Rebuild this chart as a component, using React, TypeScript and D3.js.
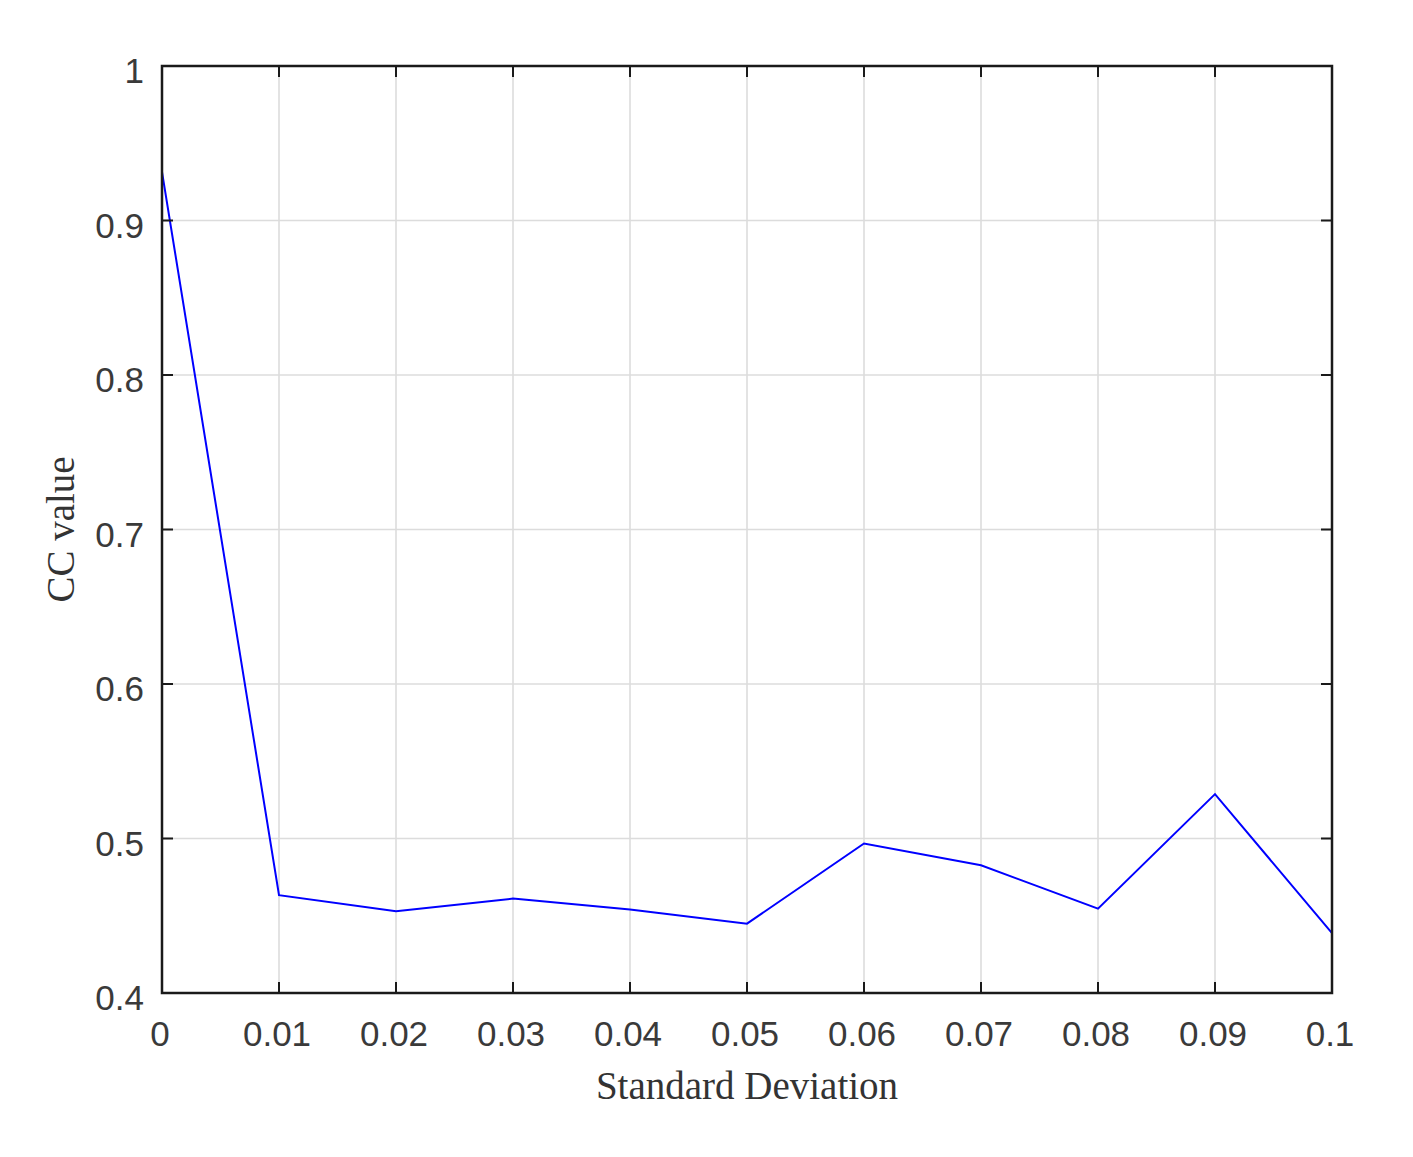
import React from "react";
import * as d3 from "d3";

const stdDev = [0, 0.01, 0.02, 0.03, 0.04, 0.05, 0.06, 0.07, 0.08, 0.09, 0.1];
const ccValue = [0.9315, 0.4633, 0.4529, 0.4611, 0.454, 0.4449, 0.4968, 0.4827, 0.4546, 0.5287, 0.4388];
const xTicks = [0, 0.01, 0.02, 0.03, 0.04, 0.05, 0.06, 0.07, 0.08, 0.09, 0.1];
const xTickLabels = ["0", "0.01", "0.02", "0.03", "0.04", "0.05", "0.06", "0.07", "0.08", "0.09", "0.1"];
const yTicks = [0.4, 0.5, 0.6, 0.7, 0.8, 0.9, 1];
const yTickLabels = ["0.4", "0.5", "0.6", "0.7", "0.8", "0.9", "1"];

export default function App() {
  const W = 1413, H = 1157;
  const left = 162, right = 1332, top = 66, bottom = 993;
  const x = d3.scaleLinear().domain([0, 0.1]).range([left, right]);
  const y = d3.scaleLinear().domain([0.4, 1]).range([bottom, top]);
  const line = d3.line<number>().x((_, i) => x(stdDev[i])).y((d) => y(d));
  const tickLen = 11;
  const sans = "'Liberation Sans', Arial, sans-serif";
  const serif = "'Liberation Serif', 'Times New Roman', serif";
  return (
    <svg width={W} height={H} style={{ position: "absolute", left: 0, top: 0, background: "#fff" }}>
      <rect x={0} y={0} width={W} height={H} fill="#fff" />
      {xTicks.map((t) => (
        <line key={"gx" + t} x1={x(t)} x2={x(t)} y1={top} y2={bottom} stroke="#dcdcdc" strokeWidth={1.6} />
      ))}
      {yTicks.map((t) => (
        <line key={"gy" + t} x1={left} x2={right} y1={y(t)} y2={y(t)} stroke="#dcdcdc" strokeWidth={1.6} />
      ))}
      <path d={line(ccValue) || ""} fill="none" stroke="#0000ff" strokeWidth={2} />
      {xTicks.map((t) => (
        <g key={"tx" + t}>
          <line x1={x(t)} x2={x(t)} y1={bottom} y2={bottom - tickLen} stroke="#1a1a1a" strokeWidth={2} />
          <line x1={x(t)} x2={x(t)} y1={top} y2={top + tickLen} stroke="#1a1a1a" strokeWidth={2} />
        </g>
      ))}
      {yTicks.map((t) => (
        <g key={"ty" + t}>
          <line x1={left} x2={left + tickLen} y1={y(t)} y2={y(t)} stroke="#1a1a1a" strokeWidth={2} />
          <line x1={right} x2={right - tickLen} y1={y(t)} y2={y(t)} stroke="#1a1a1a" strokeWidth={2} />
        </g>
      ))}
      <rect x={left} y={top} width={right - left} height={bottom - top} fill="none" stroke="#1a1a1a" strokeWidth={2.5} />
      {xTicks.map((t, i) => (
        <text key={"lx" + t} x={x(t) - 2} y={1046} textAnchor="middle" fontFamily={sans} fontSize={35} fill="#3a3a3a">
          {xTickLabels[i]}
        </text>
      ))}
      {yTicks.map((t, i) => (
        <text key={"ly" + t} x={144} y={y(t) + 17} textAnchor="end" fontFamily={sans} fontSize={35} fill="#3a3a3a">
          {yTickLabels[i]}
        </text>
      ))}
      <text x={(left + right) / 2} y={1099} textAnchor="middle" fontFamily={serif} fontSize={39} fill="#333">
        Standard Deviation
      </text>
      <text transform={`translate(74, ${(top + bottom) / 2}) rotate(-90)`} textAnchor="middle" fontFamily={serif} fontSize={39} fill="#333">
        CC value
      </text>
    </svg>
  );
}
